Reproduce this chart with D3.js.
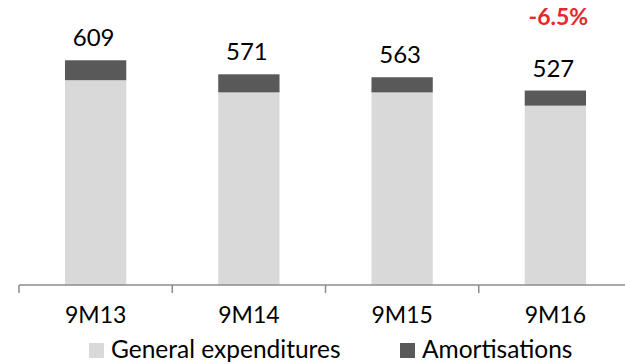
<!DOCTYPE html>
<html>
<head>
<meta charset="utf-8">
<script src="https://cdn.jsdelivr.net/npm/d3@7"></script>
<style>
  html, body { margin: 0; padding: 0; background: #fff; }
  svg { display: block; font-family: Lato, "Open Sans", sans-serif; }
</style>
</head>
<body>
<svg id="chart" width="625" height="364"></svg>
<script>
// Operating expenses by period (stacked)
const periods = ["9M13", "9M14", "9M15", "9M16"];
const generalExpenditures = [555, 522, 522, 486];
const amortisations = [54, 49, 41, 41];
const totals = [609, 571, 563, 527];
const changeLabel = "-6.5%";
const seriesNames = ["General expenditures", "Amortisations"];
const seriesColors = ["#d9d9d9", "#595959"];

const svg = d3.select("#chart");

const x = d3.scaleBand()
  .domain(periods)
  .range([19, 632])
  .paddingInner(0.6)
  .paddingOuter(0.3);

const y = d3.scaleLinear()
  .domain([0, 700])
  .range([285, 26.7]);

const rows = periods.map((p, i) => ({
  period: p,
  general: generalExpenditures[i],
  amort: amortisations[i],
  total: totals[i]
}));

const stack = d3.stack().keys(["general", "amort"]);
const layers = stack(rows);

svg.append("g")
  .selectAll("g")
  .data(layers)
  .join("g")
  .attr("fill", (d, i) => seriesColors[i])
  .selectAll("rect")
  .data(d => d)
  .join("rect")
  .attr("x", d => x(d.data.period))
  .attr("width", x.bandwidth())
  .attr("y", d => y(d[1]))
  .attr("height", d => y(d[0]) - y(d[1]));

// Total labels above each bar
svg.append("g")
  .selectAll("text")
  .data(rows)
  .join("text")
  .attr("x", d => x(d.period) + x.bandwidth() / 2 - 2)
  .attr("y", d => y(d.total) - 14)
  .attr("text-anchor", "middle")
  .attr("font-size", 24)
  .attr("fill", "#000")
  .text(d => d.total);

// Change figure over the last period
svg.append("text")
  .attr("x", x(periods[periods.length - 1]) + x.bandwidth() / 2 + 3)
  .attr("y", 25)
  .attr("text-anchor", "middle")
  .attr("font-size", 23)
  .attr("font-weight", "bold")
  .attr("fill", "#e8262b")
  .text(changeLabel);

// Category axis with ticks at band boundaries
const axisG = svg.append("g");
const [r0, r1] = x.range();
axisG.append("line")
  .attr("x1", r0).attr("x2", r1)
  .attr("y1", y(0)).attr("y2", y(0))
  .attr("stroke", "#8c8c8c").attr("stroke-width", 1.5);

const gap = (x.step() - x.bandwidth()) / 2;
const boundaries = periods.map(p => x(p) - gap).concat([r1]);
axisG.selectAll("line.tick")
  .data(boundaries)
  .join("line")
  .attr("class", "tick")
  .attr("x1", d => d).attr("x2", d => d)
  .attr("y1", y(0)).attr("y2", y(0) + 8)
  .attr("stroke", "#8c8c8c").attr("stroke-width", 1.5);

axisG.selectAll("text")
  .data(periods)
  .join("text")
  .attr("x", d => x(d) + x.bandwidth() / 2)
  .attr("y", 323)
  .attr("text-anchor", "middle")
  .attr("font-size", 23)
  .attr("fill", "#000")
  .text(d => d);

// Legend
const legendItems = [
  { name: seriesNames[0], color: seriesColors[0], x: 89 },
  { name: seriesNames[1], color: seriesColors[1], x: 400 }
];
const legend = svg.append("g")
  .selectAll("g")
  .data(legendItems)
  .join("g")
  .attr("transform", d => `translate(${d.x},0)`);
legend.append("rect")
  .attr("x", 0).attr("y", 343)
  .attr("width", 15).attr("height", 15)
  .attr("fill", d => d.color);
legend.append("text")
  .attr("x", 22).attr("y", 358)
  .attr("font-size", 24.5)
  .attr("fill", "#000")
  .text(d => d.name);
</script>
</body>
</html>
